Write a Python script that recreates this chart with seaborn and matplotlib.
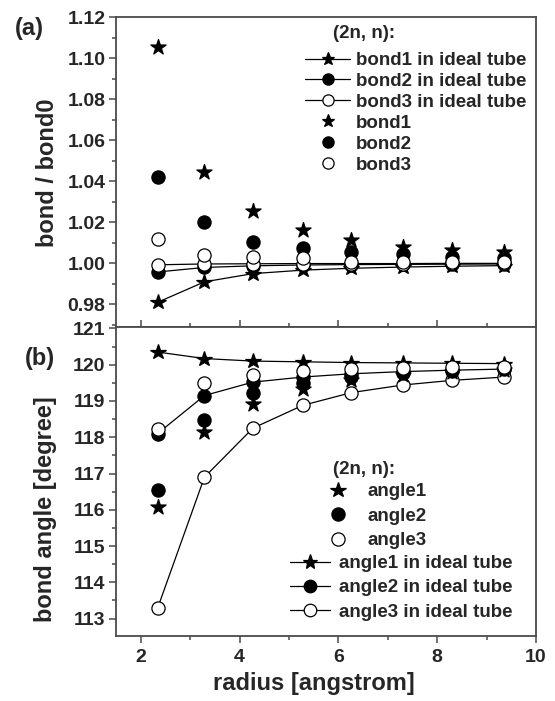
import numpy as np
import pandas as pd
import matplotlib
matplotlib.use("Agg")
import matplotlib.pyplot as plt
from matplotlib.lines import Line2D
from matplotlib.ticker import MultipleLocator, FormatStrFormatter
import seaborn as sns

# tube radius of the (2n, n) series
radius = [2.34, 3.29, 4.27, 5.28, 6.26, 7.30, 8.31, 9.36]

# bond length ratios
bond1_ideal = [0.981, 0.991, 0.995, 0.9967, 0.9976, 0.9982, 0.9986, 0.9989]
bond2_ideal = [0.9958, 0.998, 0.9988, 0.9992, 0.9994, 0.9995, 0.9996, 0.9997]
bond3_ideal = [0.9993, 0.9997, 0.9998, 0.9999, 0.9999, 0.9999, 1.0, 1.0]
bond1 = [1.1054, 1.0446, 1.0256, 1.0162, 1.0113, 1.0081, 1.0065, 1.0053]
bond2 = [1.042, 1.020, 1.0102, 1.0073, 1.0056, 1.0044, 1.0032, 1.0028]
bond3 = [1.0117, 1.0040, 1.0032, 1.0027, 1.0008, 1.0008, 1.0006, 1.0005]

# bond angles in degree
angle1_ideal = [120.35, 120.17, 120.10, 120.08, 120.06, 120.05, 120.04, 120.03]
angle2_ideal = [118.10, 119.15, 119.52, 119.66, 119.75, 119.81, 119.85, 119.88]
angle3_ideal = [113.28, 116.90, 118.25, 118.88, 119.23, 119.44, 119.57, 119.66]
angle1 = [116.08, 118.14, 118.93, 119.34, 119.57, 119.72, 119.80, 119.86]
angle2 = [116.54, 118.47, 119.22, 119.50, 119.65, 119.76, 119.83, 119.87]
angle3 = [118.24, 119.49, 119.71, 119.82, 119.88, 119.92, 119.94, 119.95]

legend_title = "(2n, n):"

sns.set_style("ticks")
plt.rcParams["font.family"] = ["Liberation Sans", "DejaVu Sans"]
plt.rcParams["font.weight"] = "bold"
plt.rcParams["axes.labelweight"] = "bold"

W, H = 555, 701
fig = plt.figure(figsize=(W / 100, H / 100), dpi=100)
L, R = 116 / W, 536 / W
ax_a = fig.add_axes([L, 1 - 327 / H, R - L, (327 - 17) / H])
ax_b = fig.add_axes([L, 1 - 636 / H, R - L, (636 - 327) / H], sharex=ax_a)

spine_col = "#4a4a4a"
mk_size = {"*": 11.5, "o": 9.5}
LEG_FS = 13.5


def ideal_line(ax, y, marker, face):
    df = pd.DataFrame({"r": radius, "v": y})
    sns.lineplot(data=df, x="r", y="v", ax=ax, color="black", lw=0.9,
                 marker=marker, markersize=mk_size[marker],
                 markerfacecolor=face, markeredgecolor="black",
                 markeredgewidth=0.9, sort=False, legend=False, zorder=3)


def scatter(ax, y, marker, face):
    df = pd.DataFrame({"r": radius, "v": y})
    sns.scatterplot(data=df, x="r", y="v", ax=ax, marker=marker,
                    s=(mk_size[marker]) ** 2, color=face,
                    edgecolor="black", linewidth=0.9, legend=False, zorder=4)


# panel (a)
ideal_line(ax_a, bond1_ideal, "*", "black")
ideal_line(ax_a, bond2_ideal, "o", "black")
ideal_line(ax_a, bond3_ideal, "o", "white")
scatter(ax_a, bond1, "*", "black")
scatter(ax_a, bond2, "o", "black")
scatter(ax_a, bond3, "o", "white")

# panel (b)
ideal_line(ax_b, angle1_ideal, "*", "black")
ideal_line(ax_b, angle2_ideal, "o", "black")
ideal_line(ax_b, angle3_ideal, "o", "white")
scatter(ax_b, angle1, "*", "black")
scatter(ax_b, angle2, "o", "black")
scatter(ax_b, angle3, "o", "white")

ax_a.set_xlim(1.5, 10)
ax_a.set_ylim(0.969, 1.12)
ax_b.set_ylim(112.52, 121.04)

for ax in (ax_a, ax_b):
    for sp in ax.spines.values():
        sp.set_visible(True)
        sp.set_color(spine_col)
        sp.set_linewidth(1.3)
    ax.tick_params(axis="both", which="both", color=spine_col, labelsize=14,
                   width=1.1, pad=2.5)
    ax.tick_params(which="major", length=5)
    ax.tick_params(which="minor", length=3)
    ax.xaxis.set_major_locator(MultipleLocator(2))
    ax.xaxis.set_minor_locator(MultipleLocator(1))
    for t in ax.get_yticklabels() + ax.get_xticklabels():
        t.set_fontweight("bold")

ax_a.yaxis.set_major_locator(MultipleLocator(0.02))
ax_a.yaxis.set_minor_locator(MultipleLocator(0.01))
ax_a.yaxis.set_major_formatter(FormatStrFormatter("%.2f"))
ax_a.tick_params(axis="x", which="both", direction="in", labelbottom=False)
ax_b.yaxis.set_major_locator(MultipleLocator(1))
ax_b.yaxis.set_minor_locator(MultipleLocator(0.5))
ax_b.tick_params(axis="x", pad=4)

ax_a.set_xlabel("")
ax_a.set_ylabel("bond / bond0", fontsize=17, fontweight="bold")
ax_a.yaxis.set_label_coords(-0.135, 0.497)
ax_b.set_ylabel("bond angle [degree]", fontsize=17, fontweight="bold")
ax_b.yaxis.set_label_coords(-0.14, 0.41)
ax_b.set_xlabel("radius [angstrom]", fontsize=17, fontweight="bold")
ax_b.xaxis.set_label_coords(0.47, -0.115)

fig.text(15 / W, 1 - 29 / H, "(a)", fontsize=17, fontweight="bold", va="center")
fig.text(25 / W, 1 - 358 / H, "(b)", fontsize=17, fontweight="bold", va="center")


def handle(marker, face, line, scale=0.85):
    return Line2D([], [], color="black", lw=0.9 if line else 0, marker=marker,
                  markersize=mk_size[marker] * scale, markerfacecolor=face,
                  markeredgecolor="black", markeredgewidth=0.9)


def place_legend(ax, handles, labels, px_left, px_top, ax_top, ax_h, **kw):
    x = (px_left - 116) / 420
    y = (ax_top + ax_h - px_top) / ax_h
    return ax.legend(handles, labels, loc="upper left",
                     bbox_to_anchor=(x, y), frameon=False, fontsize=LEG_FS,
                     borderaxespad=0, borderpad=0, **kw)


def legend_heading(px_left, px_y):
    fig.text(px_left / W, 1 - px_y / H, legend_title, fontsize=LEG_FS,
             fontweight="bold", va="center", ha="left")


# legend of panel (a)
legend_heading(333, 34)
h_a = [handle("*", "black", True), handle("o", "black", True),
       handle("o", "white", True), handle("*", "black", False),
       handle("o", "black", False), handle("o", "white", False)]
lab_a = ["bond1 in ideal tube", "bond2 in ideal tube", "bond3 in ideal tube",
         "bond1", "bond2", "bond3"]
place_legend(ax_a, h_a, lab_a, 305, 52, 17, 310, handlelength=2.4,
             handletextpad=0.32, labelspacing=0.2)

# legends of panel (b)
legend_heading(333, 469)
h_b1 = [handle("*", "black", False, 1.0), handle("o", "black", False, 1.0),
        handle("o", "white", False, 1.0)]
lab_b1 = ["angle1", "angle2", "angle3"]
leg_b1 = place_legend(ax_b, h_b1, lab_b1, 323, 483, 327, 309,
                      handlelength=1.6, handletextpad=0.75, labelspacing=0.4)
ax_b.add_artist(leg_b1)

h_b2 = [handle("*", "black", True, 0.95), handle("o", "black", True, 0.95),
        handle("o", "white", True, 0.95)]
lab_b2 = ["angle1 in ideal tube", "angle2 in ideal tube", "angle3 in ideal tube"]
place_legend(ax_b, h_b2, lab_b2, 290, 555, 327, 309, handlelength=2.13,
             handletextpad=0.48, labelspacing=0.38)

fig.savefig("out.png", dpi=100)
